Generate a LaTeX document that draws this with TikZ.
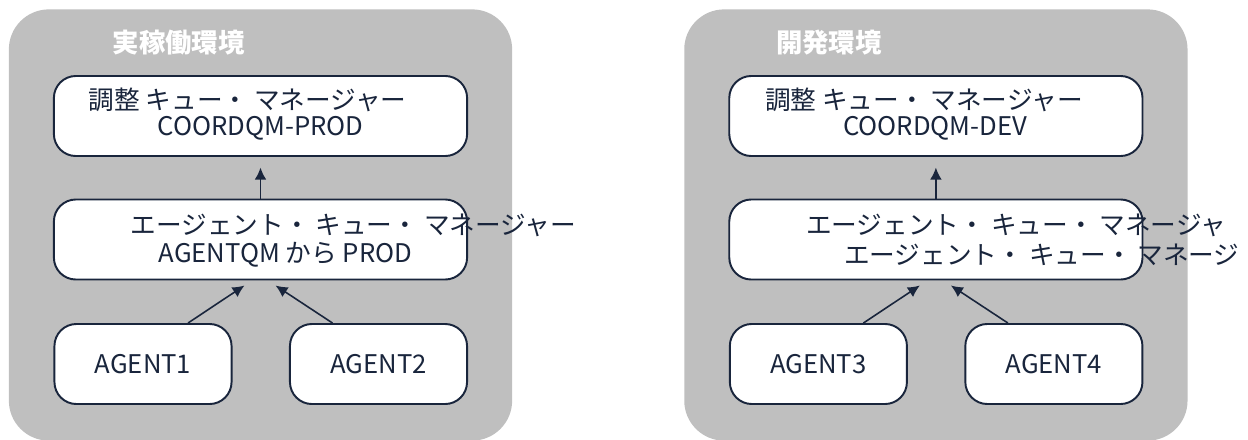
\documentclass[tikz,border=0pt]{standalone}
\usepackage{fontspec}
\setmainfont{Noto Sans CJK JP}
\usepackage{tikz}
\usetikzlibrary{arrows.meta,positioning}
\definecolor{panelgray}{RGB}{191,191,191}
\definecolor{inkblue}{RGB}{25,37,60}

\begin{document}
\begin{tikzpicture}[x=0.01cm, y=-0.01cm, font=\fontsize{7.3}{9}\selectfont,
    panel/.style={fill=panelgray, rounded corners=0.4cm, inner sep=0,
                  minimum width=5.03cm, minimum height=4.31cm},
    qmbox/.style={draw=inkblue, line width=0.55pt, fill=white, rounded corners=0.22cm,
                  inner sep=0, minimum width=4.13cm, minimum height=0.8cm},
    agentbox/.style={qmbox, text=inkblue, minimum width=1.77cm},
    txt/.style={anchor=west, inner sep=0, text=inkblue},
    envtitle/.style={anchor=west, inner sep=0, text=white,
                     font=\fontsize{7.5}{9}\selectfont\bfseries},
    arr/.style={-{Latex[length=3.4pt,width=3.3pt]}, draw=inkblue, line width=0.45pt}]

    \useasboundingbox (0,0) rectangle (1248,439);

    % production
    \node[panel] (prodenv) at (260.5,225) {};
    \node[envtitle] (prodtitle) at (112,43) {実稼働環境};
    \node[qmbox] (prodcoord) at (260.5,116) {};
    \node[qmbox] (prodagentqm) at (260.5,239.5) {};
    \node[agentbox] (agent1) at (143,364) {AGENT1};
    \node[agentbox] (agent2) at (378.5,364) {AGENT2};
    \node[txt] (prodcoordja) at (88,100) {調整 キュー・ マネージャー};
    \node[txt] (prodcoordname) at (157,128) {COORDQM-PROD};
    \node[txt] (prodagentja) at (130,225) {エージェント・ キュー・ マネージャー};
    \node[txt] (prodagentname) at (158,255) {AGENTQM から PROD};

    \draw[arr, shorten >=3pt] (prodagentqm.north) -- (prodcoord.south);
    \draw[arr] ([xshift=0.45cm]agent1.north) -- ([xshift=-0.16cm, yshift=-0.05cm]prodagentqm.south);
    \draw[arr] ([xshift=-0.46cm]agent2.north) -- ([xshift=0.15cm, yshift=-0.05cm]prodagentqm.south);

    % development
    \begin{scope}[xshift=6.75cm]
    \node[panel] (devenv) at (260.5,225) {};
    \node[envtitle] (devtitle) at (100,43) {開発環境};
    \node[qmbox] (devcoord) at (260.5,116) {};
    \node[qmbox] (devagentqm) at (260.5,239.5) {};
    \node[agentbox] (agent3) at (143,364) {AGENT3};
    \node[agentbox] (agent4) at (378.5,364) {AGENT4};
    \node[txt] (devcoordja) at (89,100) {調整 キュー・ マネージャー};
    \node[txt] (devcoordname) at (167,128) {COORDQM-DEV};
    \node[txt] (devagentja) at (130,225) {エージェント・ キュー・ マネージャ};
    \node[txt] (devagentname) at (168,255) {エージェント・ キュー・ マネージ};

    \draw[arr, shorten >=3pt] (devagentqm.north) -- (devcoord.south);
    \draw[arr] ([xshift=0.45cm]agent3.north) -- ([xshift=-0.16cm, yshift=-0.05cm]devagentqm.south);
    \draw[arr] ([xshift=-0.46cm]agent4.north) -- ([xshift=0.15cm, yshift=-0.05cm]devagentqm.south);
    \end{scope}
\end{tikzpicture}
\end{document}
